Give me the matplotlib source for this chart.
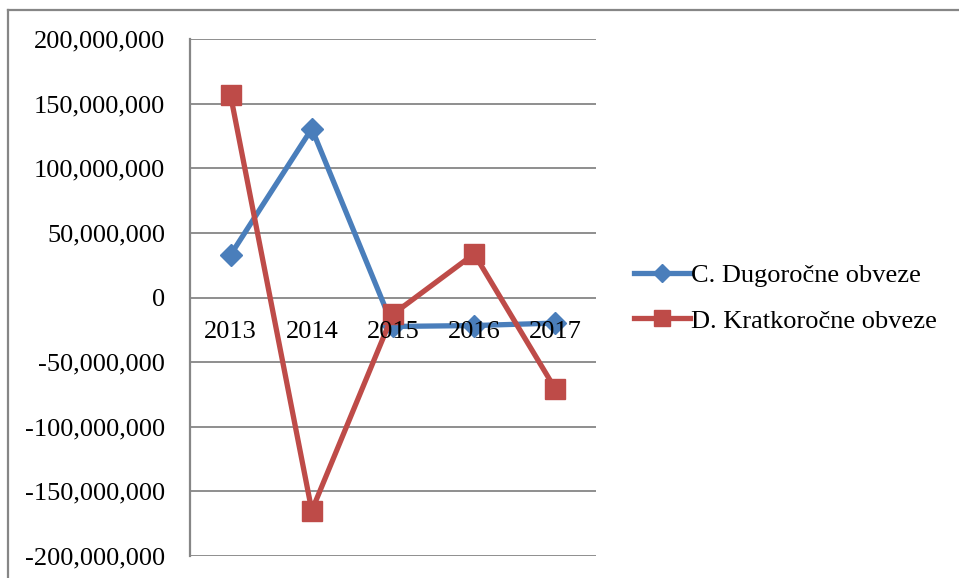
import matplotlib
matplotlib.use("Agg")
import matplotlib.pyplot as plt
from matplotlib.ticker import FuncFormatter, MultipleLocator
from matplotlib.lines import Line2D

plt.rcParams['font.family'] = ['Liberation Serif', 'DejaVu Serif']

years = ['2013', '2014', '2015', '2016', '2017']
dugorocne = [33.0e6, 130.6e6, -22.4e6, -21.7e6, -19.8e6]
kratkorocne = [156.3e6, -164.9e6, -12.9e6, 33.8e6, -70.9e6]
labels = ['C. Dugoročne obveze', 'D. Kratkoročne obveze']

blue = '#4A7EBB'
red = '#BE4B48'
grid_col = '#868686'
fs = 19

fig = plt.figure(figsize=(9.59, 5.78), dpi=100)
ax = fig.add_axes([190/959, 22/578, 406/959, 517/578])

x = list(range(len(years)))
ax.plot(x, dugorocne, color=blue, lw=3.8, marker='D', ms=11, mec=blue, mfc=blue,
        label=labels[0], zorder=3, solid_joinstyle='miter')
ax.plot(x, kratkorocne, color=red, lw=3.8, marker='s', ms=14, mec=red, mfc=red,
        label=labels[1], zorder=4, solid_joinstyle='miter')

ax.set_xlim(-0.5, 4.5)
ax.set_ylim(-200e6, 200e6)
ax.yaxis.set_major_locator(MultipleLocator(50e6))
ax.yaxis.set_major_formatter(FuncFormatter(lambda v, p: f'{v:,.0f}'))
ax.grid(axis='y', color=grid_col, lw=1.3, zorder=0)
ax.set_xticks([])
ax.tick_params(axis='y', length=0, pad=18, labelsize=fs)

for s in ['top', 'right', 'bottom']:
    ax.spines[s].set_visible(False)
ax.spines['left'].set_color(grid_col)
ax.spines['left'].set_linewidth(1.6)

# category labels sit under the zero line
for i, yr in enumerate(years):
    ax.annotate(yr, (i, 0), xytext=(0, -24), textcoords='offset pixels',
                ha='center', va='top', fontsize=fs, zorder=6)

leg = fig.legend(loc='center left', bbox_to_anchor=(621/959, 1 - 298/578), frameon=False,
                 fontsize=fs, handlelength=2.1, handletextpad=0.05, labelspacing=0.85,
                 borderpad=0, markerscale=0.8)

# chart area border (left and top visible)
fig.add_artist(Line2D([8/959, 8/959], [0, 1 - 10/578], color=grid_col, lw=1.6,
                      transform=fig.transFigure))
fig.add_artist(Line2D([8/959, 1], [1 - 10/578, 1 - 10/578], color=grid_col, lw=1.6,
                      transform=fig.transFigure))

fig.savefig('out.png', dpi=100)
